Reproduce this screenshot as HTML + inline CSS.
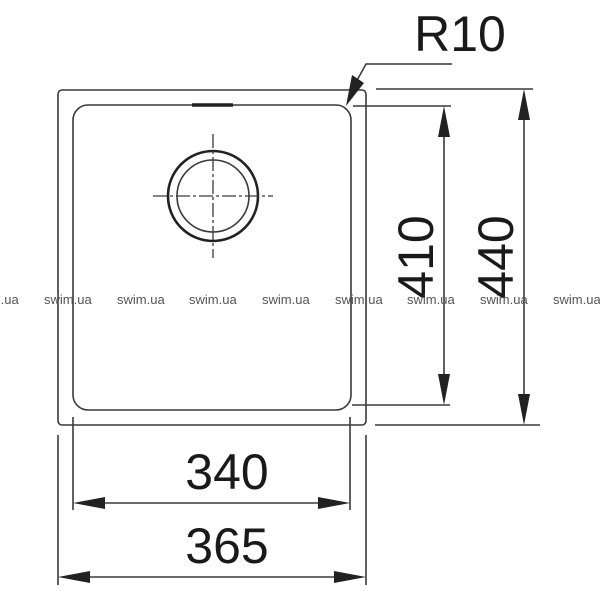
<!DOCTYPE html>
<html><head><style>body{margin:0;background:#fff}svg{display:block}</style></head><body>
<svg width="600" height="600" viewBox="0 0 600 600" xmlns="http://www.w3.org/2000/svg">
<g fill="none" stroke="#3a3a3a" stroke-width="1.6">
<rect x="58" y="90" width="308" height="335" rx="4"/>
<rect x="73" y="105" width="278" height="305" rx="15"/>
<line x1="353" y1="106" x2="451" y2="106"/>
<line x1="376" y1="89" x2="533" y2="89"/>
<line x1="352" y1="405" x2="450" y2="405"/>
<line x1="375" y1="425" x2="540" y2="425"/>
<line x1="444" y1="130" x2="444" y2="380"/>
<line x1="524" y1="112" x2="524" y2="402"/>
<line x1="73" y1="417" x2="73" y2="510"/>
<line x1="350" y1="417" x2="350" y2="510"/>
<line x1="58" y1="435" x2="58" y2="585"/>
<line x1="366" y1="435" x2="366" y2="585"/>
<line x1="96" y1="503" x2="328" y2="503"/>
<line x1="82" y1="577" x2="342" y2="577"/>
<polyline points="452,64 366,64 355,84"/>
<circle cx="213" cy="196" r="45" stroke-width="2.6" stroke="#222"/>
<circle cx="213" cy="196" r="36" stroke-width="1.6"/>
<g stroke-dasharray="14,3,3,3" stroke-width="1.3">
<line x1="153" y1="196" x2="273" y2="196"/>
<line x1="213" y1="134" x2="213" y2="258"/>
</g>
<line x1="192" y1="105" x2="233" y2="105" stroke-width="3.5" stroke="#222"/>
</g>
<g fill="#222">
<polygon points="444,106 438,137 450,137"/>
<polygon points="444,405 438,374 450,374"/>
<polygon points="524,89 518,120 530,120"/>
<polygon points="524,425 518,394 530,394"/>
<polygon points="73,503 105,497 105,509"/>
<polygon points="350,503 318,497 318,509"/>
<polygon points="58,577 90,571 90,583"/>
<polygon points="366,577 334,571 334,583"/>
<polygon points="346,106 352,75 364,83"/>
</g>
<g font-family="Liberation Sans, sans-serif" fill="#1a1a1a" font-size="50">
<text x="460" y="51" text-anchor="middle">R10</text>
<text x="227" y="489" text-anchor="middle">340</text>
<text x="227" y="563" text-anchor="middle">365</text>
<text transform="translate(433,257) rotate(-90)" text-anchor="middle">410</text>
<text transform="translate(513,257) rotate(-90)" text-anchor="middle">440</text>
</g>
<g font-family="Liberation Sans, sans-serif" fill="#555" font-size="13">
<text x="-29" y="304">swim.ua</text><text x="44" y="304">swim.ua</text><text x="117" y="304">swim.ua</text><text x="189" y="304">swim.ua</text><text x="262" y="304">swim.ua</text><text x="335" y="304">swim.ua</text><text x="407" y="304">swim.ua</text><text x="480" y="304">swim.ua</text><text x="553" y="304">swim.ua</text>
</g>
</svg>
</body></html>
